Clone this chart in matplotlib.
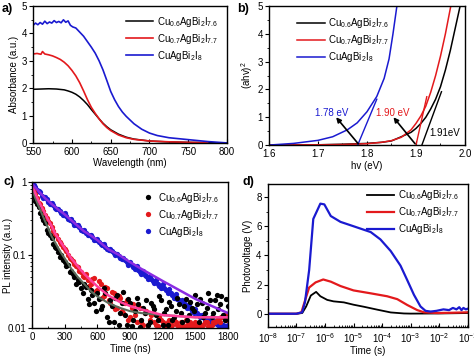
import matplotlib
matplotlib.use("Agg")
import matplotlib.pyplot as plt
from matplotlib.ticker import MultipleLocator, LogLocator, NullFormatter

plt.rcParams['font.family'] = ['Liberation Sans', 'DejaVu Sans']
plt.rcParams['mathtext.default'] = 'regular'
plt.rcParams['font.size'] = 7

labels = ['Cu$_{0.6}$AgBi$_{2}$I$_{7.6}$', 'Cu$_{0.7}$AgBi$_{2}$I$_{7.7}$', 'CuAgBi$_{2}$I$_{8}$']
colors = ['#000000', '#e3191c', '#1a1ad0']
fit_colors = ['#5a6b5a', '#ff3f9a', '#8a2be2']

# a) absorbance
wl_black = [550, 560, 570, 580, 590, 595, 600, 605, 610, 615, 620, 625, 630, 635, 640, 645, 650,
            660, 670, 680, 700, 725, 750, 775, 800]
abs_black = [1.96, 1.97, 1.98, 1.97, 1.94, 1.9, 1.85, 1.78, 1.68, 1.55, 1.4, 1.22, 1.05, 0.88, 0.72,
             0.59, 0.48, 0.32, 0.21, 0.14, 0.07, 0.035, 0.02, 0.01, 0.0]
wl_red = [550, 555, 560, 562, 565, 570, 575, 580, 585, 590, 595, 600, 605, 610, 615, 620, 625, 630,
          635, 640, 645, 650, 660, 670, 680, 700, 725, 750, 775]
abs_red = [3.25, 3.27, 3.24, 3.34, 3.25, 3.22, 3.18, 3.12, 3.05, 2.95, 2.82, 2.65, 2.45, 2.2, 1.9,
           1.58, 1.3, 1.08, 0.88, 0.7, 0.56, 0.45, 0.29, 0.19, 0.13, 0.07, 0.04, 0.02, 0.01]
wl_blue = [550, 553, 556, 559, 562, 565, 568, 571, 574, 577, 580, 583, 586, 589, 592, 595, 598,
           601, 605, 610, 615, 620, 625, 630, 635, 640, 645, 650, 655, 660, 665, 670, 680, 690,
           700, 710, 725, 750, 775, 800]
abs_blue = [4.3, 4.38, 4.32, 4.4, 4.34, 4.45, 4.36, 4.42, 4.38, 4.47, 4.4, 4.44, 4.39, 4.5, 4.41,
            4.46, 4.3, 4.24, 4.2, 4.05, 3.9, 3.7, 3.5, 3.28, 3.0, 2.67, 2.28, 1.88, 1.58, 1.33,
            1.13, 0.97, 0.7, 0.5, 0.36, 0.27, 0.19, 0.12, 0.05, 0.0]

# b) Tauc plot
hv_black = [1.6, 1.7, 1.75, 1.8, 1.83, 1.85, 1.87, 1.89, 1.9, 1.91, 1.92, 1.93, 1.94, 1.95, 1.96,
            1.97, 1.98, 1.99]
tauc_black = [0.0, 0.01, 0.03, 0.06, 0.1, 0.15, 0.3, 0.46, 0.6, 0.78, 1.0, 1.3, 1.65, 2.1, 2.7,
              3.4, 4.2, 5.0]
hv_red = [1.6, 1.7, 1.75, 1.8, 1.83, 1.85, 1.87, 1.89, 1.9, 1.91, 1.92, 1.93, 1.94, 1.95, 1.96,
          1.971]
tauc_red = [0.0, 0.01, 0.02, 0.05, 0.1, 0.16, 0.28, 0.55, 0.78, 1.05, 1.4, 1.9, 2.5, 3.2, 4.0, 5.0]
hv_blue = [1.6, 1.65, 1.7, 1.73, 1.76, 1.78, 1.8, 1.82, 1.835, 1.845, 1.853, 1.861]
tauc_blue = [0.0, 0.06, 0.17, 0.3, 0.55, 0.8, 1.2, 1.75, 2.4, 3.1, 4.0, 5.0]
tan_black_x = [1.912, 1.952]
tan_black_y = [0.0, 1.92]
tan_red_x = [1.9, 1.922]
tan_red_y = [0.0, 1.74]
tan_blue_x = [1.781, 1.82]
tan_blue_y = [0.0, 1.65]

# c) PL decay, two interleaved sampling sets
t_ns = list(range(0, 1801, 30))
t_ns2 = list(range(15, 1786, 30))
pl_black = [0.75, 0.55, 0.45, 0.33, 0.27, 0.2, 0.17, 0.13, 0.11, 0.1, 0.08, 0.072, 0.06, 0.05,
            0.045, 0.035, 0.04, 0.025, 0.033, 0.022, 0.03, 0.018, 0.035, 0.014, 0.024, 0.012,
            0.028, 0.016, 0.031, 0.011, 0.022, 0.013, 0.026, 0.0102, 0.019, 0.024, 0.012, 0.02,
            0.015, 0.027, 0.011, 0.018, 0.023, 0.013, 0.017, 0.021, 0.012, 0.025, 0.015, 0.019,
            0.028, 0.012, 0.022, 0.016, 0.03, 0.014, 0.024, 0.018, 0.027, 0.013, 0.02]
pl_black2 = [0.62, 0.5, 0.38, 0.3, 0.22, 0.19, 0.14, 0.125, 0.095, 0.085,
             0.07, 0.058, 0.055, 0.04, 0.042, 0.03, 0.036, 0.021, 0.028, 0.017,
             0.025, 0.02, 0.03, 0.012, 0.02, 0.026, 0.011, 0.022, 0.015, 0.025,
             0.0105, 0.017, 0.021, 0.013, 0.016, 0.011, 0.022, 0.018, 0.013, 0.024,
             0.016, 0.011, 0.02, 0.014, 0.026, 0.016, 0.02, 0.013, 0.023, 0.017,
             0.021, 0.025, 0.014, 0.019, 0.024, 0.016, 0.028, 0.021, 0.015, 0.025]
pl_red = [0.85, 0.68, 0.52, 0.44, 0.35, 0.29, 0.24, 0.19, 0.165, 0.14, 0.12, 0.1, 0.088, 0.075,
          0.068, 0.058, 0.05, 0.045, 0.04, 0.048, 0.033, 0.04, 0.027, 0.035, 0.022, 0.03, 0.019,
          0.026, 0.016, 0.024, 0.014, 0.021, 0.012, 0.019, 0.011, 0.017, 0.013, 0.016, 0.011,
          0.014, 0.012, 0.0103, 0.013, 0.011, 0.012, 0.0102, 0.011, 0.013, 0.0104, 0.011, 0.012,
          0.0102, 0.011, 0.012, 0.0105, 0.011, 0.012, 0.013, 0.014, 0.015, 0.014]
pl_red2 = [0.78, 0.6, 0.5, 0.4, 0.32, 0.27, 0.21, 0.185, 0.15, 0.13,
           0.112, 0.092, 0.082, 0.07, 0.06, 0.052, 0.055, 0.038, 0.047, 0.032,
           0.044, 0.026, 0.036, 0.024, 0.031, 0.018, 0.027, 0.017, 0.022, 0.013,
           0.019, 0.015, 0.02, 0.012, 0.016, 0.011, 0.015, 0.012, 0.0105, 0.013,
           0.011, 0.012, 0.0105, 0.013, 0.011, 0.012, 0.0102, 0.011, 0.012, 0.0105,
           0.011, 0.0102, 0.011, 0.012, 0.0105, 0.012, 0.013, 0.012, 0.014, 0.013]
pl_blue = [0.95, 0.85, 0.76, 0.65, 0.62, 0.53, 0.51, 0.44, 0.43, 0.37, 0.37, 0.31, 0.31, 0.26,
           0.26, 0.22, 0.22, 0.19, 0.19, 0.16, 0.165, 0.14, 0.14, 0.12, 0.122, 0.105, 0.104,
           0.09, 0.092, 0.079, 0.08, 0.069, 0.07, 0.059, 0.06, 0.051, 0.052, 0.044, 0.046, 0.038,
           0.04, 0.033, 0.034, 0.028, 0.029, 0.024, 0.024, 0.02, 0.021, 0.017, 0.018, 0.015,
           0.015, 0.013, 0.0135, 0.012, 0.0125, 0.011, 0.0115, 0.0105, 0.011]
pl_blue2 = [0.9, 0.78, 0.72, 0.6, 0.59, 0.5, 0.48, 0.42, 0.4, 0.35,
            0.345, 0.3, 0.285, 0.255, 0.24, 0.215, 0.2, 0.185, 0.175, 0.16,
            0.15, 0.138, 0.13, 0.118, 0.112, 0.1, 0.096, 0.087, 0.084, 0.074,
            0.072, 0.064, 0.062, 0.055, 0.054, 0.047, 0.047, 0.041, 0.04, 0.035,
            0.035, 0.03, 0.03, 0.026, 0.025, 0.022, 0.022, 0.019, 0.019, 0.016,
            0.016, 0.014, 0.014, 0.0125, 0.0125, 0.0115, 0.0115, 0.0108, 0.011, 0.0105]
fit_t = [0, 30, 60, 90, 120, 150, 180, 210, 240, 270, 300, 360, 420, 480, 540, 600, 700, 800,
         900, 1000, 1200, 1500, 1800]
fit_black = [0.8, 0.6, 0.47, 0.37, 0.29, 0.23, 0.18, 0.15, 0.125, 0.105, 0.09, 0.065, 0.05, 0.04,
             0.032, 0.027, 0.022, 0.019, 0.017, 0.016, 0.015, 0.014, 0.014]
fit_red = [0.9, 0.7, 0.55, 0.45, 0.37, 0.3, 0.25, 0.2, 0.17, 0.145, 0.125, 0.09, 0.07, 0.055,
           0.045, 0.037, 0.028, 0.023, 0.02, 0.018, 0.015, 0.014, 0.014]
fit_blue = [0.95, 0.84, 0.75, 0.67, 0.6, 0.55, 0.5, 0.46, 0.42, 0.39, 0.36, 0.3, 0.25, 0.21, 0.185,
            0.16, 0.12, 0.1, 0.08, 0.065, 0.044, 0.025, 0.016]

# d) transient photovoltage
t_black = [1e-8, 1e-7, 1.6e-7, 2.2e-7, 3.2e-7, 4.9e-7, 6.9e-7, 1.2e-6, 2e-6, 4.6e-6, 1e-5,
           2.3e-5, 6.8e-5, 2e-4, 5.8e-4, 1e-3, 1e-2, 1e-1]
pv_black = [0.0, 0.0, 0.05, 0.5, 1.25, 1.5, 1.2, 0.95, 0.85, 0.78, 0.62, 0.48, 0.28, 0.09, 0.02,
            0.01, 0.02, 0.05]
t_red = [1e-8, 1e-7, 1.5e-7, 2e-7, 2.8e-7, 4.7e-7, 8.7e-7, 1.6e-6, 3.5e-6, 1e-5, 4e-5, 1.5e-4,
         3.4e-4, 7.6e-4, 1.7e-3, 2.9e-3, 8.5e-3, 3e-2, 1e-1]
pv_red = [0.0, 0.0, 0.1, 0.9, 1.8, 2.15, 2.35, 2.2, 1.9, 1.6, 1.4, 1.2, 1.0, 0.6, 0.25, 0.1,
          0.05, 0.07, 0.1]
t_blue = [1e-8, 1e-7, 1.6e-7, 2e-7, 2.8e-7, 3.9e-7, 6.9e-7, 9.5e-7, 1.6e-6, 3.5e-6, 1e-5,
          4e-5, 8.7e-5, 2e-4, 4.4e-4, 7.6e-4, 1.3e-3, 2.2e-3, 3.3e-3, 5e-3, 8e-3, 1.4e-2,
          2.2e-2, 3e-2, 4e-2, 5e-2, 6e-2, 7e-2, 8.5e-2, 1e-1]
pv_blue = [0.0, 0.0, 0.1, 0.8, 3.0, 6.5, 7.55, 7.5, 6.7, 6.3, 6.0, 5.6, 5.1, 4.3, 3.3, 2.3, 1.3,
           0.5, 0.2, 0.15, 0.2, 0.3, 0.25, 0.4, 0.3, 0.45, 0.25, 0.4, 0.3, 0.35]

fig = plt.figure(figsize=(4.74, 3.6), dpi=100)
ax_a = fig.add_axes([0.070, 0.603, 0.409, 0.380])
ax_b = fig.add_axes([0.5675, 0.597, 0.4135, 0.386])
ax_c = fig.add_axes([0.0675, 0.089, 0.4135, 0.4055])
ax_d = fig.add_axes([0.565, 0.092, 0.422, 0.397])

for ax in (ax_a, ax_b, ax_c, ax_d):
    ax.tick_params(axis='x', which='both', direction='in', top=False, labelsize=7, pad=3)
    ax.tick_params(axis='y', which='both', direction='out', right=False, labelsize=7, pad=1.5)
    ax.tick_params(which='major', length=3, width=0.8)
    ax.tick_params(which='minor', length=1.8, width=0.6)
    for s in ax.spines.values():
        s.set_linewidth(1.0)

leg_kw = dict(frameon=False, fontsize=7, handlelength=2.8, handletextpad=0.4, labelspacing=0.3)

# a)
ax_a.plot(wl_black, abs_black, color=colors[0], lw=1.1, label=labels[0])
ax_a.plot(wl_red, abs_red, color=colors[1], lw=1.2, label=labels[1])
ax_a.plot(wl_blue, abs_blue, color=colors[2], lw=1.2, label=labels[2])
ax_a.set_xlim(550, 800)
ax_a.set_ylim(0, 5)
ax_a.xaxis.set_major_locator(MultipleLocator(50))
ax_a.xaxis.set_minor_locator(MultipleLocator(25))
ax_a.yaxis.set_major_locator(MultipleLocator(1))
ax_a.yaxis.set_minor_locator(MultipleLocator(0.5))
ax_a.set_xlabel('Wavelength (nm)', labelpad=1)
ax_a.set_ylabel('Absorbance (a.u.)', labelpad=2)
ax_a.legend(loc='upper right', bbox_to_anchor=(1.0, 1.0), **leg_kw)

# b)
ax_b.plot(hv_black, tauc_black, color=colors[0], lw=1.1, label=labels[0])
ax_b.plot(hv_red, tauc_red, color=colors[1], lw=1.1, label=labels[1])
ax_b.plot(hv_blue, tauc_blue, color=colors[2], lw=1.1, label=labels[2])
ax_b.plot(tan_black_x, tan_black_y, color=colors[0], lw=1.0)
ax_b.plot(tan_red_x, tan_red_y, color=colors[1], lw=1.0)
ax_b.plot(tan_blue_x, tan_blue_y, color=colors[2], lw=1.0)
arrow = dict(arrowstyle='-|>', color='black', lw=1.2, mutation_scale=7, shrinkA=0, shrinkB=0)
ax_b.annotate('', xy=(1.737, 1.0), xytext=(1.782, 0.05), arrowprops=arrow)
ax_b.annotate('', xy=(1.854, 1.0), xytext=(1.898, 0.05), arrowprops=arrow)
ax_b.text(1.727, 1.16, '1.78 eV', color=colors[2], ha='center', va='center', fontsize=7)
ax_b.text(1.852, 1.16, '1.90 eV', color=colors[1], ha='center', va='center', fontsize=7)
ax_b.text(1.927, 0.42, '1.91eV', color='black', ha='left', va='center', fontsize=7)
ax_b.set_xlim(1.6, 2.0)
ax_b.set_ylim(0, 5)
ax_b.xaxis.set_major_locator(MultipleLocator(0.1))
ax_b.xaxis.set_minor_locator(MultipleLocator(0.05))
ax_b.yaxis.set_major_locator(MultipleLocator(1))
ax_b.yaxis.set_minor_locator(MultipleLocator(0.5))
ax_b.set_xlabel('hv (eV)', labelpad=1)
ax_b.set_ylabel(r'(ahv)$^{2}$', labelpad=2)
ax_b.legend(loc='upper left', bbox_to_anchor=(0.1, 0.99), **leg_kw)

# c)
ms = 3.8
ax_c.plot(t_ns, pl_blue, 'o', color=colors[2], ms=ms, mec='none', label=labels[2])
ax_c.plot(t_ns2, pl_blue2, 'o', color=colors[2], ms=ms, mec='none')
ax_c.plot(t_ns, pl_red, 'o', color=colors[1], ms=ms, mec='none', label=labels[1])
ax_c.plot(t_ns2, pl_red2, 'o', color=colors[1], ms=ms, mec='none')
ax_c.plot(t_ns, pl_black, 'o', color=colors[0], ms=ms, mec='none', label=labels[0])
ax_c.plot(t_ns2, pl_black2, 'o', color=colors[0], ms=ms, mec='none')
ax_c.plot(fit_t, fit_black, color=fit_colors[0], lw=1.5)
ax_c.plot(fit_t, fit_red, color=fit_colors[1], lw=1.8)
ax_c.plot(fit_t, fit_blue, color=fit_colors[2], lw=1.8)
ax_c.set_yscale('log')
ax_c.set_xlim(0, 1800)
ax_c.set_ylim(0.01, 1)
ax_c.set_yticks([0.01, 0.1, 1])
ax_c.set_yticklabels(['0.01', '0.1', '1'])
ax_c.yaxis.set_minor_formatter(NullFormatter())
ax_c.tick_params(axis='y', pad=1)
ax_c.xaxis.set_major_locator(MultipleLocator(300))
ax_c.xaxis.set_minor_locator(MultipleLocator(150))
ax_c.set_xlabel('Time (ns)', labelpad=1)
ax_c.set_ylabel('PL intensity (a.u.)')
ax_c.yaxis.set_label_coords(-0.098, 0.5)
h, l = ax_c.get_legend_handles_labels()
ax_c.legend(h[::-1], l[::-1], loc='upper right', bbox_to_anchor=(1.0, 1.0), frameon=False,
            fontsize=7, handlelength=1.2, handletextpad=0.4, labelspacing=0.3)

# d)
ax_d.plot(t_black, pv_black, color=colors[0], lw=1.3, label=labels[0])
ax_d.plot(t_red, pv_red, color=colors[1], lw=1.6, label=labels[1])
ax_d.plot(t_blue, pv_blue, color=colors[2], lw=1.6, label=labels[2])
ax_d.set_xscale('log')
ax_d.set_xlim(1e-8, 1e-1)
ax_d.set_ylim(-0.9, 8.9)
ax_d.xaxis.set_major_locator(LogLocator(base=10, numticks=10))
ax_d.xaxis.set_minor_locator(LogLocator(base=10, subs=range(2, 10), numticks=10))
ax_d.xaxis.set_minor_formatter(NullFormatter())
ax_d.yaxis.set_major_locator(MultipleLocator(2))
ax_d.yaxis.set_minor_locator(MultipleLocator(1))
ax_d.set_xlabel('Time (s)', labelpad=1)
ax_d.set_ylabel('Photovoltage (V)', labelpad=2)
ax_d.legend(loc='upper right', bbox_to_anchor=(1.0, 1.03), **leg_kw)

for x, y, s in [(0.004, 0.975, 'a)'), (0.500, 0.975, 'b)'), (0.008, 0.495, 'c)'), (0.512, 0.495, 'd)')]:
    fig.text(x, y, s, fontsize=9, fontweight='bold', ha='left', va='center')

fig.savefig('out.png', dpi=100)
